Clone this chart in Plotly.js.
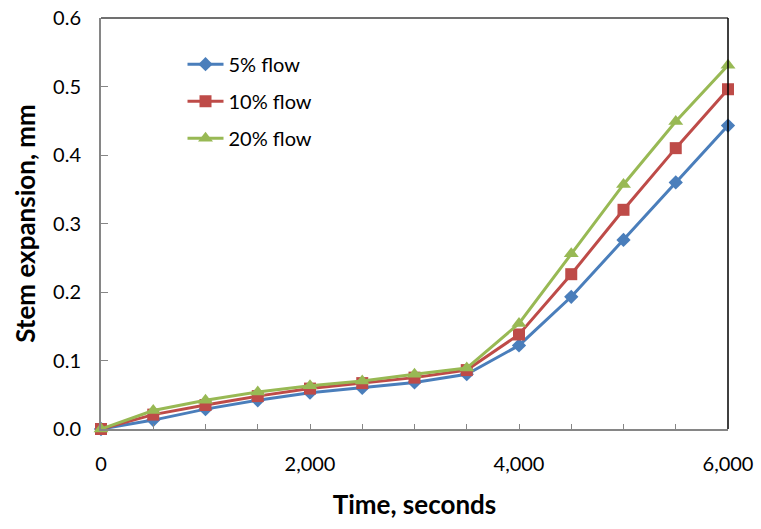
<!DOCTYPE html>
<html>
<head>
<meta charset="utf-8">
<script src="https://cdn.plot.ly/plotly-3.0.1.min.js"></script>
<style>
  html, body { margin: 0; padding: 0; background: #fff; }
  #chart { width: 761px; height: 529px; }
</style>
</head>
<body>
<div id="chart"></div>
<script>
// Elapsed time (s) and measured stem expansion (mm) for each flow rate
const timeSec = [0, 500, 1000, 1500, 2000, 2500, 3000, 3500, 4000, 4500, 5000, 5500, 6000];
const flow5  = [0, 0.013, 0.029, 0.042, 0.053, 0.060, 0.068, 0.080, 0.122, 0.193, 0.276, 0.360, 0.443];
const flow10 = [0, 0.021, 0.035, 0.048, 0.059, 0.067, 0.075, 0.086, 0.138, 0.226, 0.320, 0.410, 0.496];
const flow20 = [0, 0.027, 0.042, 0.054, 0.063, 0.070, 0.080, 0.089, 0.154, 0.256, 0.357, 0.449, 0.531];
const seriesNames = ['5% flow', '10% flow', '20% flow'];

const FONT = 'Lato, "Open Sans", sans-serif';

function series(y, name, color, symbol, size, group) {
  return {
    x: timeSec, y: y, name: name, type: 'scatter', mode: 'lines+markers',
    legendgroup: group,
    line: { color: color, width: 3 },
    marker: { color: color, symbol: symbol, size: size },
    cliponaxis: false
  };
}

const traces = [
  series(flow5,  seriesNames[0], '#4A7EBB', 'diamond', 11, 'a'),
  series(flow10, seriesNames[1], '#BE4B48', 'square', 12, 'b'),
  series(flow20, seriesNames[2], '#98B954', 'triangle-up', 13, 'c')
];

const layout = {
  width: 761, height: 529,
  margin: { l: 101, r: 33, t: 18, b: 100 },
  paper_bgcolor: '#fff', plot_bgcolor: '#fff',
  font: { family: FONT, size: 20, color: '#000' },
  showlegend: true,
  legend: {
    x: 0.13, y: 0.935, xanchor: 'left', yanchor: 'top',
    bgcolor: 'rgba(0,0,0,0)', font: { family: FONT, size: 20 },
    tracegroupgap: 8, itemwidth: 36
  },
  xaxis: {
    range: [0, 6000], dtick: 2000, tick0: 0, tickformat: ',d',
    showgrid: false, zeroline: false,
    showline: true, linecolor: '#868686', linewidth: 2,
    ticks: 'inside', ticklen: 5, tickcolor: '#868686',
    minor: { dtick: 500, ticks: 'inside', ticklen: 5, tickcolor: '#868686' },
    tickfont: { family: FONT, size: 20 }, ticklabelstandoff: 16,
    title: { text: '<b>Time, seconds</b>', font: { family: FONT, size: 26 }, standoff: 22 }
  },
  yaxis: {
    range: [0, 0.6], dtick: 0.1, tick0: 0, tickformat: '.1f',
    showgrid: false, zeroline: false,
    showline: true, linecolor: '#868686', linewidth: 2,
    ticks: 'inside', ticklen: 7, tickcolor: '#868686',
    tickfont: { family: FONT, size: 20 }, ticklabelstandoff: 14,
    title: { text: '<b>Stem expansion, mm</b>', font: { family: FONT, size: 26 }, standoff: 10 }
  },
  shapes: [
    { type: 'line', xref: 'paper', yref: 'paper', x0: 0, x1: 1, y0: 1, y1: 1,
      line: { color: '#404040', width: 1.5 } },
    { type: 'line', xref: 'paper', yref: 'paper', x0: 1, x1: 1, y0: 0, y1: 1,
      line: { color: '#000', width: 1.5 } }
  ]
};

Plotly.newPlot('chart', traces, layout, { displayModeBar: false, staticPlot: true });
</script>
</body>
</html>
